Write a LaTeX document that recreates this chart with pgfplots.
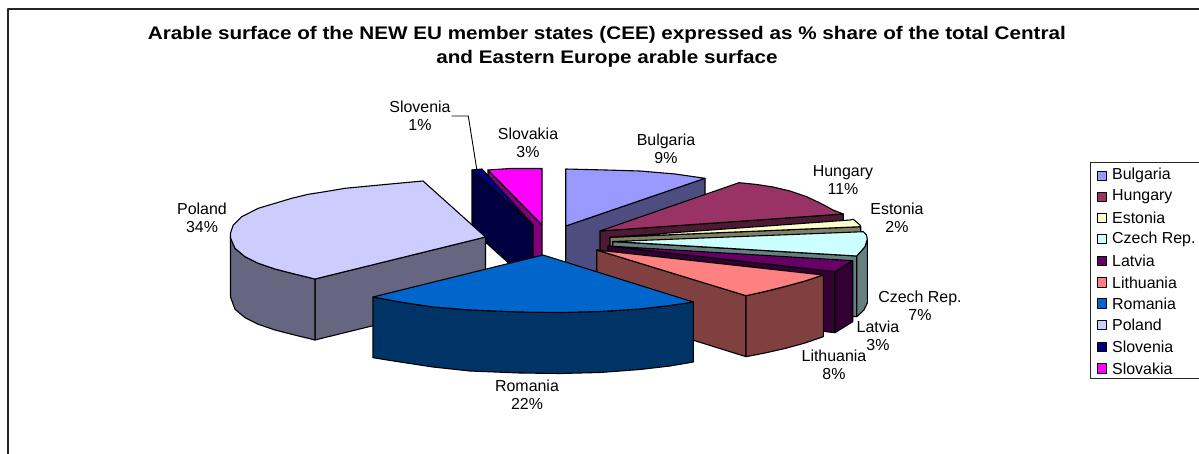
\documentclass[border=0pt]{standalone}
\usepackage{pgfplots}
\pgfplotsset{compat=1.18}
\usepackage{fontspec}
\setmainfont{Liberation Sans}
\definecolor{bgT}{RGB}{153,153,255}\definecolor{bgS}{RGB}{77,77,128}
\definecolor{huT}{RGB}{153,51,102}\definecolor{huS}{RGB}{77,26,51}
\definecolor{esT}{RGB}{255,255,204}\definecolor{esS}{RGB}{128,128,102}
\definecolor{czT}{RGB}{204,255,255}\definecolor{czS}{RGB}{102,128,128}
\definecolor{laT}{RGB}{102,0,102}\definecolor{laS}{RGB}{51,0,51}
\definecolor{ltT}{RGB}{255,128,128}\definecolor{ltS}{RGB}{128,64,64}
\definecolor{roT}{RGB}{0,102,204}\definecolor{roS}{RGB}{0,51,102}
\definecolor{poT}{RGB}{204,204,255}\definecolor{poS}{RGB}{102,102,128}
\definecolor{svT}{RGB}{0,0,128}\definecolor{svS}{RGB}{0,0,64}
\definecolor{skT}{RGB}{255,0,255}\definecolor{skS}{RGB}{128,0,128}
\newcommand{\lab}{\fontsize{16}{18}\selectfont}
\tikzset{lbl/.style={align=center,font=\lab,inner sep=0pt,text=black}}
\begin{document}
\begin{tikzpicture}
\path[use as bounding box] (0,0) rectangle (1199bp,454bp);
\begin{axis}[at={(0,0)},anchor=south west,scale only axis,width=1199bp,height=454bp,
  xmin=0,xmax=1199,ymin=0,ymax=454,y dir=reverse,hide axis,clip=true,
  every axis plot/.append style={line width=1.1bp,line join=round,mark=none}]
% frame
\addplot[draw=black!85,line width=1.3bp] coordinates {(8,454)(8,9)(1199,9)};
% Slovakia
\addplot[fill=skS,draw=black] coordinates {(488,170)(542,225)(542,285)(488,230)} -- cycle;
\addplot[fill=skT,draw=black] coordinates {(488,170)(510,168.5)(542,168.5)(542,225)} -- cycle;
% Slovenia
\addplot[fill=svS,draw=black] coordinates {(472,170)(533,225)(533,285)(472,230)} -- cycle;
\addplot[fill=svT,draw=black] coordinates {(472,170)(482,169)(533,225)} -- cycle;
% Bulgaria
\addplot[fill=bgS,draw=black] coordinates {(565.7,226)(705,178.3)(705,238)(565.7,286)} -- cycle;
\addplot[fill=bgT,draw=black] coordinates {(565.7,226)(565.7,169)(606,170)(640,171)(675,174)(705,178.3)} -- cycle;
% Hungary
\addplot[fill=huS,draw=black] coordinates {(600,231)(843.3,214)(843.3,274)(600,291)} -- cycle;
\addplot[fill=huT,draw=black] coordinates {(600,231)(739,182.7)(757,184.5)(773,187)(790,191)(806.7,196.7)(822,204)(833,210)(843.3,214)} -- cycle;
% Estonia
\addplot[fill=esS,draw=black] coordinates {(610,237.3)(860.7,226.7)(860.7,287)(610,297)} -- cycle;
\addplot[fill=esT,draw=black] coordinates {(610,237.3)(850,220)(853.3,219.3)(860,225)(860.7,226.7)} -- cycle;
% Czech Rep.
\addplot[fill=czS,draw=black] coordinates {(612.7,241.7)(856.7,256)(856.7,316.7)(612.7,302)} -- cycle;
\addplot[fill=czS,draw=black] coordinates {(856.7,256)(865,246.7)(867.3,240)(867.3,303)(864,310)(856.7,316.7)} -- cycle;
\addplot[fill=czT,draw=black] coordinates {(614,241.5)(863.3,231.7)(866.5,235)(867.3,239.3)(865,246.7)(856.7,256)} -- cycle;
% Latvia
\addplot[fill=laS,draw=black] coordinates {(608,246)(835,271.7)(835,332.7)(608,306)} -- cycle;
\addplot[fill=laS,draw=black] coordinates {(835,271.7)(852.7,260.7)(852.7,321.7)(835,332.7)} -- cycle;
\addplot[fill=laT,draw=black] coordinates {(608,246)(852.7,260.7)(835,271.7)} -- cycle;
% Lithuania
\addplot[fill=ltS,draw=black] coordinates {(596.7,250)(746,295.7)(746,356.7)(596.7,310)} -- cycle;
\addplot[fill=ltS,draw=black] coordinates {(746,295.7)(765,291.5)(785,286.5)(805,281)(823.3,275)(823.3,336.7)(805,343)(785,348.5)(765,353)(746,356.7)} -- cycle;
\addplot[fill=ltT,draw=black] coordinates {(596.7,250)(823.3,275)(805,281)(785,286.5)(765,291.5)(746,295.7)} -- cycle;
% Poland
\addplot[fill=poS,draw=black] coordinates {(315,279)(485.5,237)(485.5,298)(315,340)} -- cycle;
\addplot[fill=poS,draw=black] coordinates {(230.5,236)(235,248.3)(245,256.7)(258.3,263.3)(275,269)(291.7,273.3)(315,279)(315,340)(291.7,334.3)(275,330)(258.3,324.3)(245,317.7)(235,309.3)(230.5,297)} -- cycle;
\addplot[fill=poT,draw=black] coordinates {(423,181)(385,184.5)(345,188.3)(325,191.7)(308.3,194.3)(291.7,198.3)(275,203.3)(258.3,208.3)(241.7,216.7)(233.3,225)(230.5,233)(230.5,238)(235,248.3)(245,256.7)(258.3,263.3)(275,269)(291.7,273.3)(315,279)(485.5,237)} -- cycle;
% Romania
\addplot[fill=roS,draw=black] coordinates {(373,297)(400,302)(433,307)(470,310)(520,312)(560,312.5)(600,311.5)(640,309)(670,305.5)(693.3,302)(693.3,362)(670,366)(640,369.5)(600,372.5)(560,373.5)(520,373)(470,371)(433,367)(400,362)(373,357.7)} -- cycle;
\addplot[fill=roT,draw=black] coordinates {(543,255)(373,297)(400,302)(433,307)(470,310)(520,312)(560,312.5)(600,311.5)(640,309)(670,305.5)(693.3,302)} -- cycle;
% leader
\addplot[draw=black,line width=0.9bp] coordinates {(451.7,116)(468.3,116)(476.7,169)};
% legend
\addplot[draw=black!85,line width=1.1bp] coordinates {(1199,162.7)(1090.7,162.7)(1090.7,378.3)(1199,378.3)};
\addplot[only marks,mark=square*,mark size=4.6bp,mark options={fill=bgT,draw=black,line width=0.8bp}] coordinates {(1101.7,175.7)};
\addplot[only marks,mark=square*,mark size=4.6bp,mark options={fill=huT,draw=black,line width=0.8bp}] coordinates {(1101.7,196.7)};
\addplot[only marks,mark=square*,mark size=4.6bp,mark options={fill=esT,draw=black,line width=0.8bp}] coordinates {(1101.7,218)};
\addplot[only marks,mark=square*,mark size=4.6bp,mark options={fill=czT,draw=black,line width=0.8bp}] coordinates {(1101.7,239)};
\addplot[only marks,mark=square*,mark size=4.6bp,mark options={fill=laT,draw=black,line width=0.8bp}] coordinates {(1101.7,260.7)};
\addplot[only marks,mark=square*,mark size=4.6bp,mark options={fill=ltT,draw=black,line width=0.8bp}] coordinates {(1101.7,282.3)};
\addplot[only marks,mark=square*,mark size=4.6bp,mark options={fill=roT,draw=black,line width=0.8bp}] coordinates {(1101.7,303.3)};
\addplot[only marks,mark=square*,mark size=4.6bp,mark options={fill=poT,draw=black,line width=0.8bp}] coordinates {(1101.7,325)};
\addplot[only marks,mark=square*,mark size=4.6bp,mark options={fill=svT,draw=black,line width=0.8bp}] coordinates {(1101.7,346.7)};
\addplot[only marks,mark=square*,mark size=4.6bp,mark options={fill=skT,draw=black,line width=0.8bp}] coordinates {(1101.7,368.3)};
\node[lbl,anchor=west] at (axis cs:1112,175.7) {Bulgaria};
\node[lbl,anchor=west] at (axis cs:1112,196.7) {Hungary};
\node[lbl,anchor=west] at (axis cs:1112,218) {Estonia};
\node[lbl,anchor=west] at (axis cs:1112,239) {Czech Rep.};
\node[lbl,anchor=west] at (axis cs:1112,260.7) {Latvia};
\node[lbl,anchor=west] at (axis cs:1112,282.3) {Lithuania};
\node[lbl,anchor=west] at (axis cs:1112,303.3) {Romania};
\node[lbl,anchor=west] at (axis cs:1112,325) {Poland};
\node[lbl,anchor=west] at (axis cs:1112,346.7) {Slovenia};
\node[lbl,anchor=west] at (axis cs:1112,368.3) {Slovakia};
% labels
\node[lbl] at (axis cs:420,116) {Slovenia\\1\%};
\node[lbl] at (axis cs:528,143) {Slovakia\\3\%};
\node[lbl] at (axis cs:666,149) {Bulgaria\\9\%};
\node[lbl] at (axis cs:843,180) {Hungary\\11\%};
\node[lbl] at (axis cs:897,218) {Estonia\\2\%};
\node[lbl] at (axis cs:920,306) {Czech Rep.\\7\%};
\node[lbl] at (axis cs:878,336) {Latvia\\3\%};
\node[lbl] at (axis cs:834,365) {Lithuania\\8\%};
\node[lbl] at (axis cs:527,395) {Romania\\22\%};
\node[lbl] at (axis cs:202,218) {Poland\\34\%};
% title
\node[align=center,inner sep=0pt,xscale=1.134,transform shape,font=\fontsize{18.3}{24}\selectfont\bfseries] at (axis cs:607,47) {Arable surface of the NEW EU member states (CEE) expressed as \% share of the total Central\\and Eastern Europe arable surface};
\end{axis}
\end{tikzpicture}
\end{document}
